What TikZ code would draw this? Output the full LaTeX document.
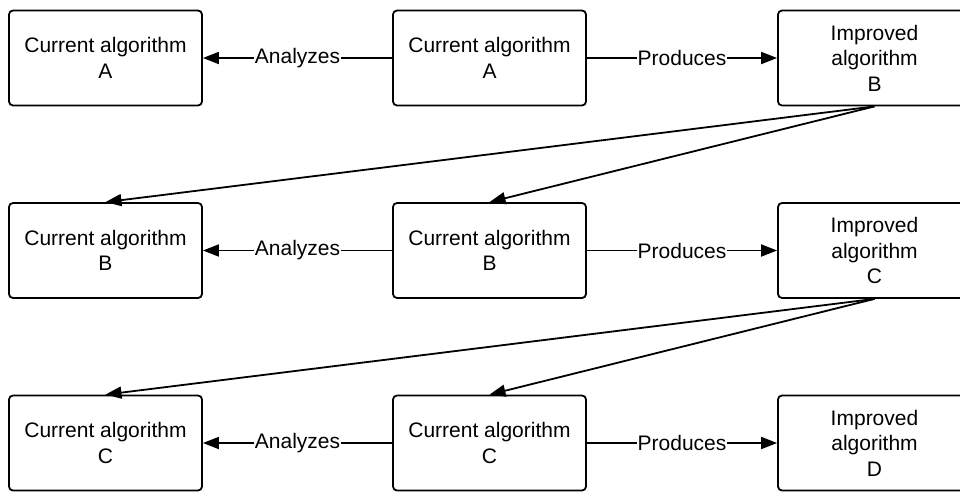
\documentclass[tikz,border=0pt]{standalone}
\usepackage{fontspec}
\setmainfont{Liberation Sans}
\usetikzlibrary{
    arrows.meta,
    positioning
}
\tikzset{
    algbox/.style={draw, rectangle, rounded corners=4pt, line width=1.8pt,
        minimum width=193pt, minimum height=95pt, align=center, inner sep=0pt,
        font=\fontsize{21}{25.5}\selectfont},
    flow/.style={line width=1.8pt, -{Triangle[length=16pt, width=12pt]}},
    lbl/.style={fill=white, inner sep=1pt, font=\fontsize{21}{25.5}\selectfont}
}

\begin{document}
\begin{tikzpicture}[x=1pt, y=-1pt]
    \useasboundingbox (0, 0) rectangle (960, 492);
    % first round
    \node[algbox] (la) at (105.5, 58) {Current algorithm\\A};
    \node[algbox] (ma) at (489.5, 58) {Current algorithm\\A};
    \node[algbox] (ib) at (874.5, 58) {Improved\\algorithm\\B};
    \draw[flow] (ma) -- node[lbl]{Analyzes} (la);
    \draw[flow] (ma) -- node[lbl]{Produces} (ib);
    % second round
    \node[algbox] (lb) at (105.5, 250.5) {Current algorithm\\B};
    \node[algbox] (mb) at (489.5, 250.5) {Current algorithm\\B};
    \node[algbox] (ic) at (874.5, 250.5) {Improved\\algorithm\\C};
    \draw[flow] (mb) -- node[lbl]{Analyzes} (lb);
    \draw[flow] (mb) -- node[lbl]{Produces} (ic);
    % third round
    \node[algbox] (lc) at (105.5, 443) {Current algorithm\\C};
    \node[algbox] (mc) at (489.5, 443) {Current algorithm\\C};
    \node[algbox] (id) at (874.5, 443) {Improved\\algorithm\\D};
    \draw[flow] (mc) -- node[lbl]{Analyzes} (lc);
    \draw[flow] (mc) -- node[lbl]{Produces} (id);
    % improved becomes current
    \draw[flow] (ib.south) -- (lb.north);
    \draw[flow] (ib.south) -- (mb.north);
    \draw[flow] (ic.south) -- (lc.north);
    \draw[flow] (ic.south) -- (mc.north);
\end{tikzpicture}
\end{document}
